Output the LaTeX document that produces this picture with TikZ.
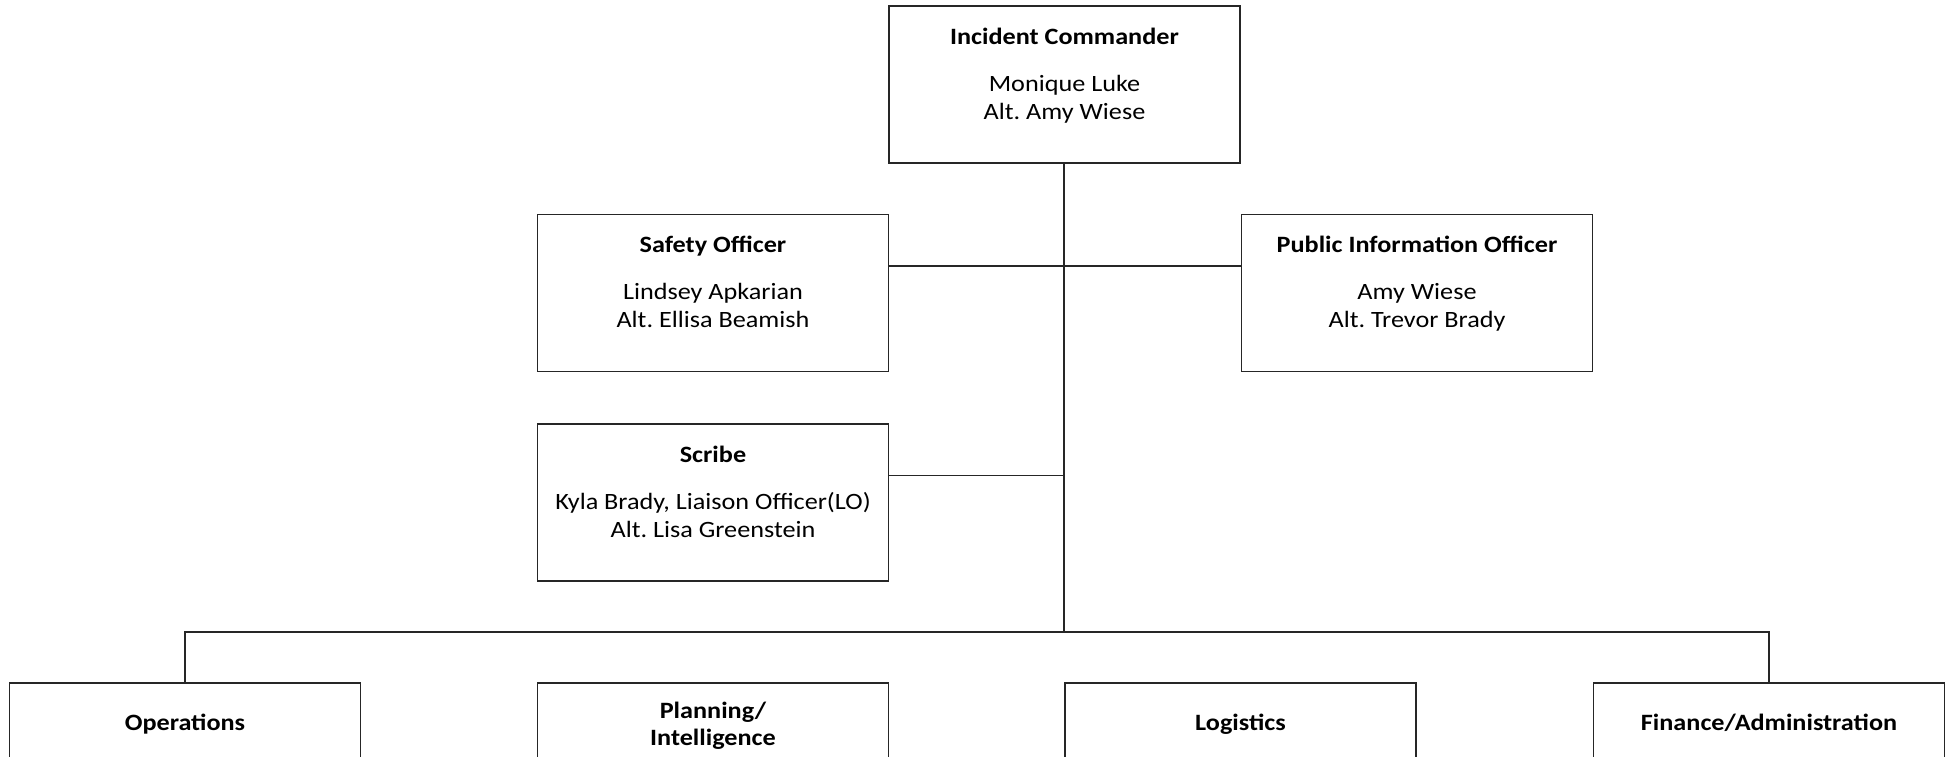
\documentclass[tikz,border=0pt]{standalone}
\usepackage{fontspec}
\setmainfont{Carlito}[FakeStretch=1.12]
\begin{document}
\frenchspacing
\begin{tikzpicture}[x=0.5pt,y=-0.5pt,
  box/.style={draw=black!85, line width=0.7pt, minimum width=175.5pt, minimum height=78.5pt, inner sep=0pt},
  ttl/.style={anchor=base, font=\fontsize{11.7}{14}\selectfont\bfseries, inner sep=0pt},
  nm/.style={anchor=base, font=\fontsize{11.7}{14}\selectfont, inner sep=0pt},
  conn/.style={draw=black!85, line width=0.7pt}]
\useasboundingbox (0,0) rectangle (1949,756);
\clip (0,0) rectangle (1949,756);
% boxes
\node[box] (ic)  at (1064.5,84.5) {};
\node[box] (so)  at (713,293) {};
\node[box] (pio) at (1417,293) {};
\node[box] (scr) at (713,502.5) {};
\node[box] (ops) at (185,761.5) {};
\node[box] (pln) at (713,761.5) {};
\node[box] (log) at (1240.5,761.5) {};
\node[box] (fin) at (1769,761.5) {};
% texts
\node[ttl] (ic-t) at ([yshift=-19.5pt]ic.north) {Incident Commander};
\node[nm]  (ic-a) at ([yshift=-43pt]ic.north) {Monique Luke};
\node[nm]  (ic-b) at ([yshift=-57pt]ic.north) {Alt. Amy Wiese};
\node[ttl] (so-t) at ([yshift=-19.5pt]so.north) {Safety Officer};
\node[nm]  (so-a) at ([yshift=-43pt]so.north) {Lindsey Apkarian};
\node[nm]  (so-b) at ([yshift=-57pt]so.north) {Alt. Ellisa Beamish};
\node[ttl] (pio-t) at ([yshift=-19.5pt]pio.north) {Public Information Officer};
\node[nm]  (pio-a) at ([yshift=-43pt]pio.north) {Amy Wiese};
\node[nm]  (pio-b) at ([yshift=-57pt]pio.north) {Alt. Trevor Brady};
\node[ttl] (scr-t) at ([yshift=-19.5pt]scr.north) {Scribe};
\node[nm]  (scr-a) at ([yshift=-43pt]scr.north) {Kyla Brady, Liaison Officer(LO)};
\node[nm]  (scr-b) at ([yshift=-57pt]scr.north) {Alt. Lisa Greenstein};
\node[ttl] (ops-t) at ([yshift=-24pt]ops.north) {Operations};
\node[ttl] (pln-t) at ([yshift=-18pt]pln.north) {Planning/};
\node[ttl] (pln-u) at ([yshift=-31.5pt]pln.north) {Intelligence};
\node[ttl] (log-t) at ([yshift=-24pt]log.north) {Logistics};
\node[ttl] (fin-t) at ([yshift=-24pt]fin.north) {Finance/Administration};
% connectors
\coordinate (bus) at (1064,632);
\draw[conn] (ic.south -| bus) -- (bus);
\draw[conn] ([yshift=-26pt]so.north east) -- ([yshift=-26pt]pio.north west);
\draw[conn] ([yshift=-26pt]scr.north east) -- ([yshift=-26pt]scr.north east -| bus);
\draw[conn] (ops.north) -- (ops.north |- bus) -- (fin.north |- bus) -- (fin.north);
\end{tikzpicture}
\end{document}
